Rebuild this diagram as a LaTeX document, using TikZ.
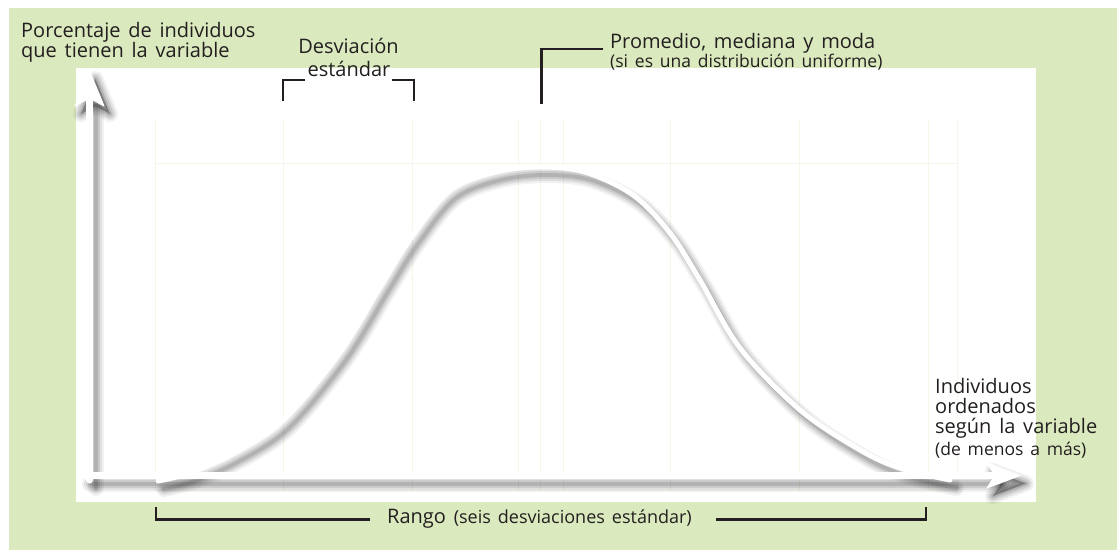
\documentclass[tikz,border=0pt]{standalone}
\usepackage{fontspec}
\setmainfont{Open Sans}[WordSpace=1.5]
\definecolor{bgGreen}{RGB}{219,233,190}
\definecolor{ink}{RGB}{35,31,32}
\definecolor{gridc}{RGB}{245,245,234}
\newcommand{\bellpath}{plot[smooth,tension=0.55] coordinates {(158,481) (186,474) (230,455) (282,421) (340,352) (383,282) (412,236) (450,190) (495,172) (540,167) (585,172) (633,195) (670,233) (700,280) (740,348) (800,410) (860,450) (900,468) (950,480)}}
\newcommand{\yaxpath}{(89.5,480) -- (89.5,100)}
\newcommand{\xaxpath}{(84,475.5) -- (995,475.5)}
\newcommand{\yheadpath}{(89.5,71) -- (104,106) -- (89.5,98) -- (75,106) -- cycle}
\newcommand{\xheadpath}{(1020,475.5) -- (987,463) -- (995,475.5) -- (987,488) -- cycle}
\begin{document}
\begin{tikzpicture}[x=1pt,y=-1pt,
  lbl/.style={inner sep=0pt, text=ink, font=\fontsize{20}{22}\selectfont, anchor=base west},
  lblc/.style={lbl, anchor=base},
  sml/.style={inner sep=0pt, text=ink, font=\fontsize{17.5}{19}\selectfont, anchor=base west},
  brk/.style={draw=ink, line width=2.6pt},
  gridline/.style={draw=gridc, line width=1pt},
  shadowline/.style={draw=black, line cap=round, line join=round},
  whiteline/.style={draw=white, line cap=round, line join=round}]
\useasboundingbox (0,0) rectangle (1117,550);
\fill[white] (0,0) rectangle (1117,550);
\fill[bgGreen] (9,8) rectangle (1117,550);
\fill[white] (75.5,68) rectangle (1036,502);
% faint grid
\foreach \gx in {155,283,412,518,540,563,670,799,928,957}
  \draw[gridline] (\gx,119) -- (\gx,490);
\draw[gridline] (155,163) -- (957,163);
\draw[gridline] (155,490) -- (957,490);
% shadows
\begin{scope}[shift={(6,8)}]
  \foreach \w/\o in {16/0.05,12/0.07,8/0.09,4/0.12} {
    \draw[shadowline, line width=\w pt, opacity=\o] \bellpath;
    \draw[shadowline, line width=\w pt, opacity=\o] \xaxpath;
    \draw[shadowline, line width=\w pt, opacity=\o] \yaxpath;
    \filldraw[shadowline, line width=\w pt, opacity=\o] \yheadpath;
    \filldraw[shadowline, line width=\w pt, opacity=\o] \xheadpath;
  }
\end{scope}
% white axes and curve
\draw[whiteline, line width=7pt] \yaxpath;
\draw[whiteline, line width=7pt] \xaxpath;
\filldraw[whiteline, line width=1pt, fill=white] \yheadpath;
\filldraw[whiteline, line width=1pt, fill=white] \xheadpath;
\draw[whiteline, line width=5pt] \bellpath;
% brackets
\coordinate (d1) at (283,101); \coordinate (d2) at (283,80); \coordinate (d3) at (305,80);
\coordinate (d4) at (392,80); \coordinate (d5) at (414,80); \coordinate (d6) at (414,101);
\draw[brk] (d1) -- (d2) -- (d3);
\draw[brk] (d4) -- (d5) -- (d6);
\coordinate (p1) at (541.5,104); \coordinate (p2) at (541.5,49); \coordinate (p3) at (603,49);
\coordinate (p4) at (541.5,68);
\draw[brk] (p1) -- (p2) -- (p3);
\draw[brk, line width=3.6pt] (p4) -- (p1);
\coordinate (r1) at (156,507); \coordinate (r2) at (156,519.5); \coordinate (r3) at (370,519.5);
\coordinate (r4) at (716,519.5); \coordinate (r5) at (926,519.5); \coordinate (r6) at (926,507);
\draw[brk] (r1) -- (r2) -- (r3);
\draw[brk] (r4) -- (r5) -- (r6);
% texts
\node[lbl] (t1) at (21,37) {Porcentaje de individuos};
\node[lbl] (t2) at (21,57) {que tienen la variable};
\node[lblc] (t3) at (348.5,53) {Desviación};
\node[lblc] (t4) at (349,76) {estándar};
\node[lbl] (t5) at (610,48) {Promedio, mediana y moda};
\node[sml] (t6) at (610,67) {(si es una distribución uniforme)};
\node[lbl] (t7) at (935,393) {Individuos};
\node[lbl] (t8) at (935,413) {ordenados};
\node[lbl] (t9) at (935,433) {según la variable};
\node[sml] (t10) at (935,455) {(de menos a más)};
\node[lbl] (t11) at (387,523) {Rango \fontsize{18}{20}\selectfont(seis desviaciones estándar)};
\end{tikzpicture}
\end{document}
